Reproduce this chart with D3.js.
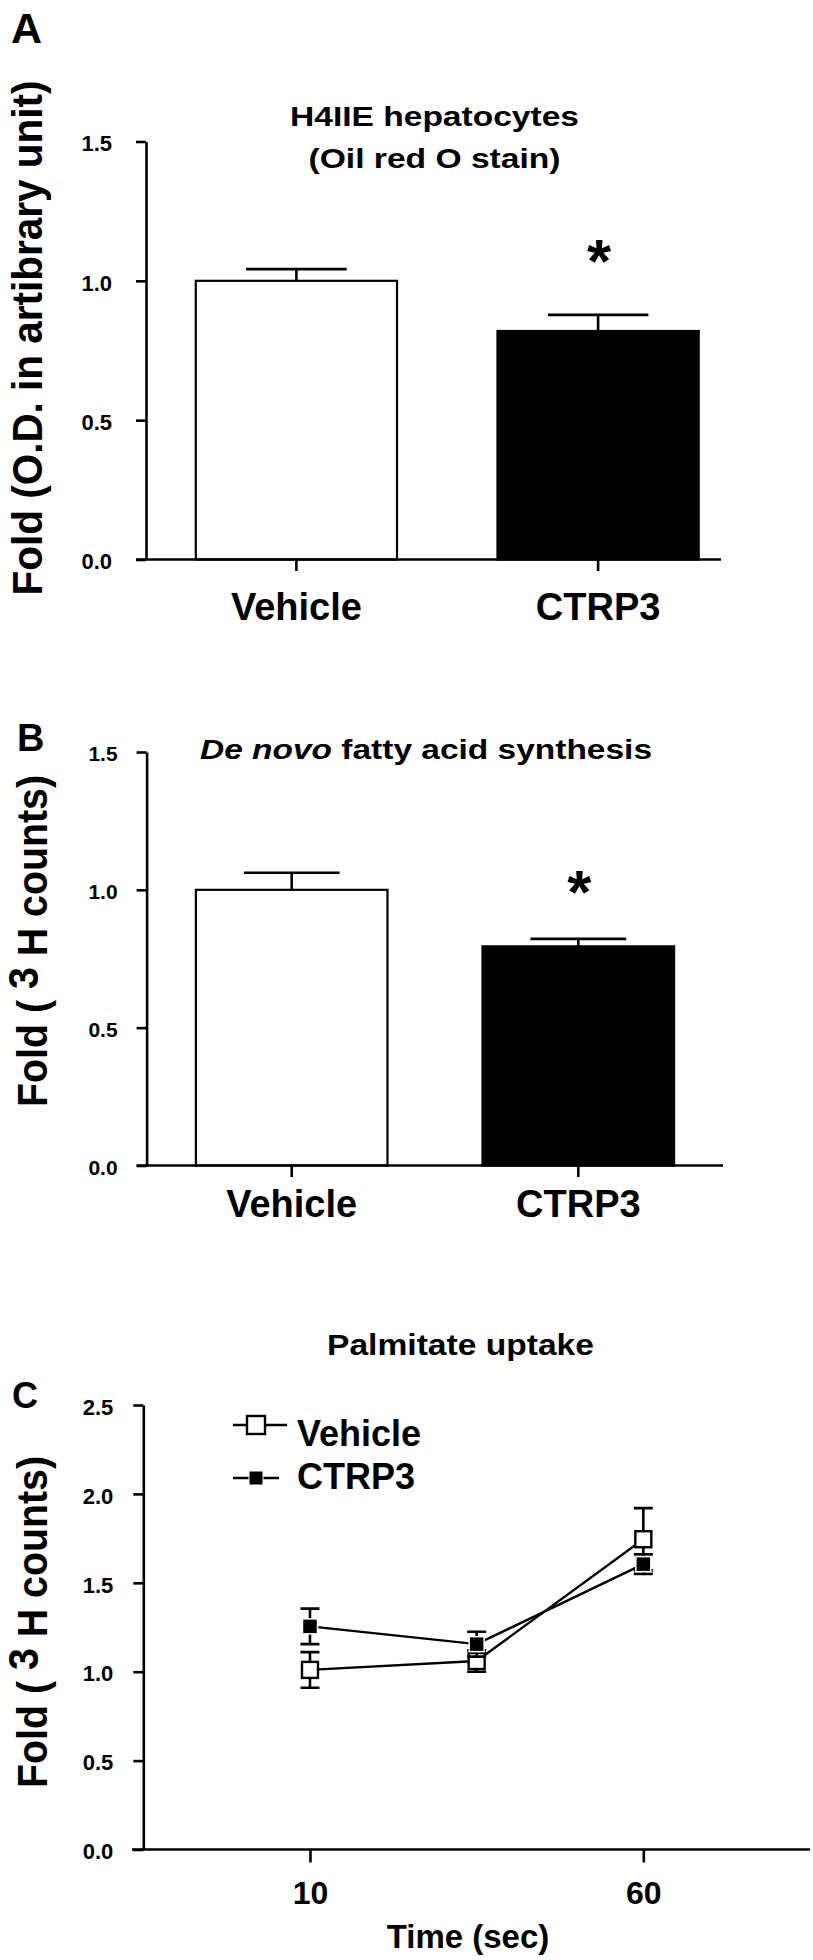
<!DOCTYPE html>
<html>
<head>
<meta charset="utf-8">
<script src="https://cdnjs.cloudflare.com/ajax/libs/d3/7.8.5/d3.min.js"></script>
<style>
body { margin: 0; background: #fff; }
svg text { font-family: "Liberation Sans", Arial, sans-serif; font-weight: bold; fill: #000; }
</style>
</head>
<body>
<div id="chart"></div>
<script>
// values
var groups = ["Vehicle", "CTRP3"];
var starred = [false, true];
var barTicks = [0, 0.5, 1.0, 1.5];

// A: Oil red O stain
var oilRedMean = [1.00, 0.82];
var oilRedSem = [0.042, 0.058];

// B: de novo fatty acid synthesis
var synthMean = [1.00, 0.795];
var synthSem = [0.062, 0.027];

// C: palmitate uptake
var timePoints = [10, 35, 60];
var timeTicks = [10, 60];
var uptakeTicks = [0, 0.5, 1.0, 1.5, 2.0, 2.5];
var vehicleUptake = [1.01, 1.06, 1.745];
var vehicleUptakeSem = [0.10, 0.06, 0.175];
var ctrp3Uptake = [1.255, 1.155, 1.605];
var ctrp3UptakeSem = [0.10, 0.07, 0.055];

var svg = d3.select("#chart").append("svg")
	.attr("width", 813)
	.attr("height", 1960);

function styleAxis(g, size){
	g.attr("font-family", null).attr("font-size", null);
	g.selectAll("line").attr("stroke", "#000").attr("stroke-width", 2.6);
	g.selectAll("text").style("font-size", size + "px");
}

function yLabel(x, y, len, size, parts){
	var t = svg.append("text")
		.attr("transform", "translate(" + x + "," + y + ") rotate(-90)")
		.attr("text-anchor", "middle")
		.attr("textLength", len)
		.attr("lengthAdjust", "spacingAndGlyphs")
		.style("font-size", size + "px");
	var raised = false;
	parts.forEach(function(p){
		var dy = 0;
		if (p[1] && !raised) dy = -0.22;
		if (!p[1] && raised) dy = 0.22;
		raised = p[1];
		t.append("tspan").attr("dy", dy + "em").text(p[0]);
	});
	return t;
}

function panelLetter(letter, x, y, size){
	svg.append("text").text(letter)
		.attr("x", x).attr("y", y)
		.style("font-size", size + "px");
}

function barPanel(opt){
	var g = svg.append("g");
	var y = d3.scaleLinear().domain([0, 1.5]).range([opt.base, opt.top]);
	var x = d3.scaleBand().domain(groups)
		.range([opt.left, opt.right])
		.paddingInner(opt.padIn)
		.paddingOuter(opt.padOut);
	var bw = x.bandwidth();
	var rows = groups.map(function(d, i){
		return {name: d, mean: opt.mean[i], sem: opt.sem[i], star: starred[i], i: i};
	});

	g.selectAll(".bar").data(rows).enter().append("rect")
		.attr("class", "bar")
		.attr("x", function(d){ return x(d.name); })
		.attr("width", bw)
		.attr("y", function(d){ return y(d.mean); })
		.attr("height", function(d){ return y(0) - y(d.mean); })
		.attr("fill", function(d){ return d.i ? "#000" : "#fff"; })
		.attr("stroke", "#000")
		.attr("stroke-width", 2.2);

	// upper error bars
	g.selectAll(".err").data(rows).enter().append("path")
		.attr("class", "err")
		.attr("fill", "none")
		.attr("stroke", "#000")
		.attr("stroke-width", 2.6)
		.attr("d", function(d){
			var cx = x(d.name) + bw / 2, y0 = y(d.mean), y1 = y(d.mean + d.sem);
			return "M" + cx + "," + y0 + "V" + y1 + "M" + (cx - bw / 4) + "," + y1 + "H" + (cx + bw / 4);
		});

	g.selectAll(".star").data(rows.filter(function(d){ return d.star; })).enter().append("text")
		.attr("class", "star")
		.attr("x", function(d){ return x(d.name) + bw / 2 + 1; })
		.attr("y", function(d){ return y(d.mean + d.sem) - opt.starGap; })
		.attr("text-anchor", "middle")
		.style("font-size", "62px")
		.text("*");

	var ya = g.append("g")
		.attr("transform", "translate(" + opt.left + ",0)")
		.call(d3.axisLeft(y).tickValues(barTicks).tickFormat(d3.format(".1f"))
			.tickSize(10).tickSizeOuter(0).tickPadding(opt.tickPad));
	ya.select(".domain").attr("stroke", "#000").attr("stroke-width", 2.6);
	styleAxis(ya, opt.tickFont);
	ya.selectAll("text").attr("dy", "0.42em");

	var xa = g.append("g")
		.attr("transform", "translate(0," + opt.base + ")")
		.call(d3.axisBottom(x).tickSize(11.5).tickPadding(opt.catPad));
	xa.select(".domain").remove();
	styleAxis(xa, 38);
	g.append("line")
		.attr("x1", opt.left - 10).attr("x2", opt.axisEnd)
		.attr("y1", opt.base).attr("y2", opt.base)
		.attr("stroke", "#000").attr("stroke-width", 2.6);
}

// ---- Panel A ----
panelLetter("A", 11, 43, 43);
svg.append("text").text("H4IIE hepatocytes")
	.attr("x", 434.5).attr("y", 125.5).attr("text-anchor", "middle")
	.attr("textLength", 289).attr("lengthAdjust", "spacingAndGlyphs")
	.style("font-size", "28px");
svg.append("text").text("(Oil red O stain)")
	.attr("x", 434.5).attr("y", 168).attr("text-anchor", "middle")
	.attr("textLength", 252).attr("lengthAdjust", "spacingAndGlyphs")
	.style("font-size", "28px");
yLabel(42, 338, 515, 43, [["Fold (O.D. in artibrary unit)", false]]);
barPanel({
	mean: oilRedMean, sem: oilRedSem,
	base: 559.5, top: 141.5, left: 146, right: 748.5, axisEnd: 721,
	padIn: 0.333, padOut: 0.165, tickPad: 24, tickFont: 22, catPad: 22, starGap: 33
});

// ---- Panel B ----
panelLetter("B", 17, 751, 38);
var tB = svg.append("text")
	.attr("x", 200).attr("y", 759)
	.attr("textLength", 452).attr("lengthAdjust", "spacingAndGlyphs")
	.style("font-size", "28px");
tB.append("tspan").style("font-style", "italic").text("De novo");
tB.append("tspan").text(" fatty acid synthesis");
yLabel(47, 941, 332, 43, [["Fold ( ", false], ["3", true], [" H counts)", false]]);
barPanel({
	mean: synthMean, sem: synthSem,
	base: 1165.5, top: 752, left: 146.6, right: 723.4, axisEnd: 723,
	padIn: 0.3316, padOut: 0.172, tickPad: 19, tickFont: 21, catPad: 13, starGap: 26
});

// ---- Panel C ----
panelLetter("C", 12, 1408, 36);
svg.append("text").text("Palmitate uptake")
	.attr("x", 460.5).attr("y", 1354.5).attr("text-anchor", "middle")
	.attr("textLength", 267).attr("lengthAdjust", "spacingAndGlyphs")
	.style("font-size", "29px");
yLabel(47, 1622, 332, 43, [["Fold ( ", false], ["3", true], [" H counts)", false]]);

var yC = d3.scaleLinear().domain([0, 2.5]).range([1849.5, 1405]);
var xC = d3.scaleLinear().domain([-15, 85]).range([143.3, 810]);
var gC = svg.append("g");

var series = [
	{name: "Vehicle", values: vehicleUptake, sem: vehicleUptakeSem, filled: false},
	{name: "CTRP3", values: ctrp3Uptake, sem: ctrp3UptakeSem, filled: true}
];

var line = d3.line()
	.x(function(d){ return xC(d.t); })
	.y(function(d){ return yC(d.v); });

function pts(s){
	return timePoints.map(function(t, i){ return {t: t, v: s.values[i], e: s.sem[i]}; });
}

series.forEach(function(s){
	gC.append("path")
		.datum(pts(s))
		.attr("fill", "none")
		.attr("stroke", "#000")
		.attr("stroke-width", 2.4)
		.attr("d", line);
});

series.forEach(function(s){
	var sg = gC.append("g");
	sg.selectAll(".eb").data(pts(s)).enter().append("path")
		.attr("class", "eb")
		.attr("fill", "none")
		.attr("stroke", "#000")
		.attr("stroke-width", 2.6)
		.attr("d", function(d){
			var cx = xC(d.t), hi = yC(d.v + d.e), lo = yC(d.v - d.e);
			return "M" + cx + "," + hi + "V" + lo +
				"M" + (cx - 9.5) + "," + hi + "H" + (cx + 9.5) +
				"M" + (cx - 9.5) + "," + lo + "H" + (cx + 9.5);
		});
	var m = s.filled ? 15 : 16;
	sg.selectAll(".mk").data(pts(s)).enter().append("rect")
		.attr("class", "mk")
		.attr("x", function(d){ return xC(d.t) - m / 2; })
		.attr("y", function(d){ return yC(d.v) - m / 2; })
		.attr("width", m).attr("height", m)
		.attr("fill", s.filled ? "#000" : "#fff")
		.attr("stroke", s.filled ? "#fff" : "#000")
		.attr("stroke-width", s.filled ? 1.5 : 2.4);
});

var yaC = gC.append("g")
	.attr("transform", "translate(143.3,0)")
	.call(d3.axisLeft(yC).tickValues(uptakeTicks).tickFormat(d3.format(".1f"))
		.tickSize(10).tickSizeOuter(0).tickPadding(20));
yaC.select(".domain").attr("stroke", "#000").attr("stroke-width", 2.6);
styleAxis(yaC, 22);
yaC.selectAll("text").attr("dy", "0.42em");

var xaC = gC.append("g")
	.attr("transform", "translate(0,1849.5)")
	.call(d3.axisBottom(xC).tickValues(timeTicks).tickFormat(d3.format("d"))
		.tickSize(13).tickPadding(19));
xaC.select(".domain").remove();
styleAxis(xaC, 32);
gC.append("line")
	.attr("x1", 132).attr("x2", 810)
	.attr("y1", 1849.5).attr("y2", 1849.5)
	.attr("stroke", "#000").attr("stroke-width", 2.6);

svg.append("text").text("Time (sec)")
	.attr("x", 468).attr("y", 1947.5).attr("text-anchor", "middle")
	.style("font-size", "33px");

// legend
var legend = svg.append("g").selectAll(".lg").data(series).enter().append("g")
	.attr("class", "lg")
	.attr("transform", function(d, i){ return "translate(0," + (1425 + i * 53) + ")"; });
legend.append("line")
	.attr("x1", 233).attr("x2", function(d){ return d.filled ? 279 : 287; })
	.attr("stroke", "#000").attr("stroke-width", 2.4);
legend.append("rect")
	.attr("x", function(d){ return d.filled ? 249 : 247; })
	.attr("y", function(d){ return d.filled ? -7 : -9; })
	.attr("width", function(d){ return d.filled ? 14 : 18; })
	.attr("height", function(d){ return d.filled ? 14 : 18; })
	.attr("fill", function(d){ return d.filled ? "#000" : "#fff"; })
	.attr("stroke", function(d){ return d.filled ? "#fff" : "#000"; })
	.attr("stroke-width", function(d){ return d.filled ? 1 : 2.4; });
legend.append("text")
	.attr("x", 297)
	.attr("y", function(d, i){ return i ? 11 : 21; })
	.style("font-size", "36px")
	.text(function(d){ return d.name; });
</script>
</body>
</html>
